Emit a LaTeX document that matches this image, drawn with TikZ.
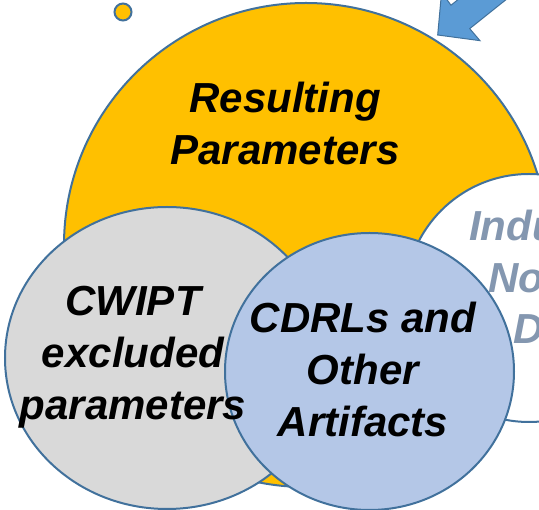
\documentclass[tikz,border=0pt]{standalone}
\usepackage{fontspec}
\setmainfont{Liberation Sans}
\definecolor{rim}{HTML}{41719C}
\definecolor{sun}{HTML}{FFC000}
\definecolor{ash}{HTML}{D9D9D9}
\definecolor{sky}{HTML}{B4C7E7}
\definecolor{arrowblue}{HTML}{5B9BD5}
\definecolor{slate}{HTML}{8497B0}
\begin{document}
\begin{tikzpicture}[x=1pt,y=-1pt,
  disc/.style={draw=rim, line width=2pt},
  label/.style={font=\fontsize{42}{52}\selectfont\bfseries\itshape,
    align=center, inner sep=0pt, text=black}]
\useasboundingbox (0,0) rectangle (539,510);
\clip (0,0) rectangle (539,510);

% the four overlapping sets
\path[disc, fill=sun]   (306,245) circle [radius=242pt];
\path[disc, fill=white] (529,298) circle [radius=124pt];
\path[disc, fill=ash]   (167,358) ellipse [x radius=162pt, y radius=151pt];
\path[disc, fill=sky]   (369.5,371.5) ellipse [x radius=144.5pt, y radius=138.5pt];

% small dot at the top left
\path[draw=rim, line width=2pt, fill=sun] (123,12) circle [radius=8.5pt];

% block arrow coming in from the top right
\begin{scope}[shift={(437.7,35)}, rotate=38.6]
  \path[draw=rim, line width=1pt, fill=arrowblue]
    (0,0) -- (29.5,30.8) -- (29,15) -- (140,15) -- (140,-15)
    -- (29,-15) -- (29.5,-30.8) -- cycle;
\end{scope}

% labels (base anchor sits on the last line)
\node[label, anchor=base] (res) at (285,165) {Resulting\\Parameters};
\node[label, anchor=base] (cwipt) at (133,420) {CWIPT\\excluded\\parameters};
\node[label, anchor=base] (cdrl) at (363,437) {CDRLs and\\Other\\Artifacts};
\node[label, text=slate, anchor=base west] (ind1) at (469,241) {Indu};
\node[label, text=slate, anchor=base west] (ind2) at (488,293) {No};
\node[label, text=slate, anchor=base west] (ind3) at (513,344) {D};
\end{tikzpicture}
\end{document}
